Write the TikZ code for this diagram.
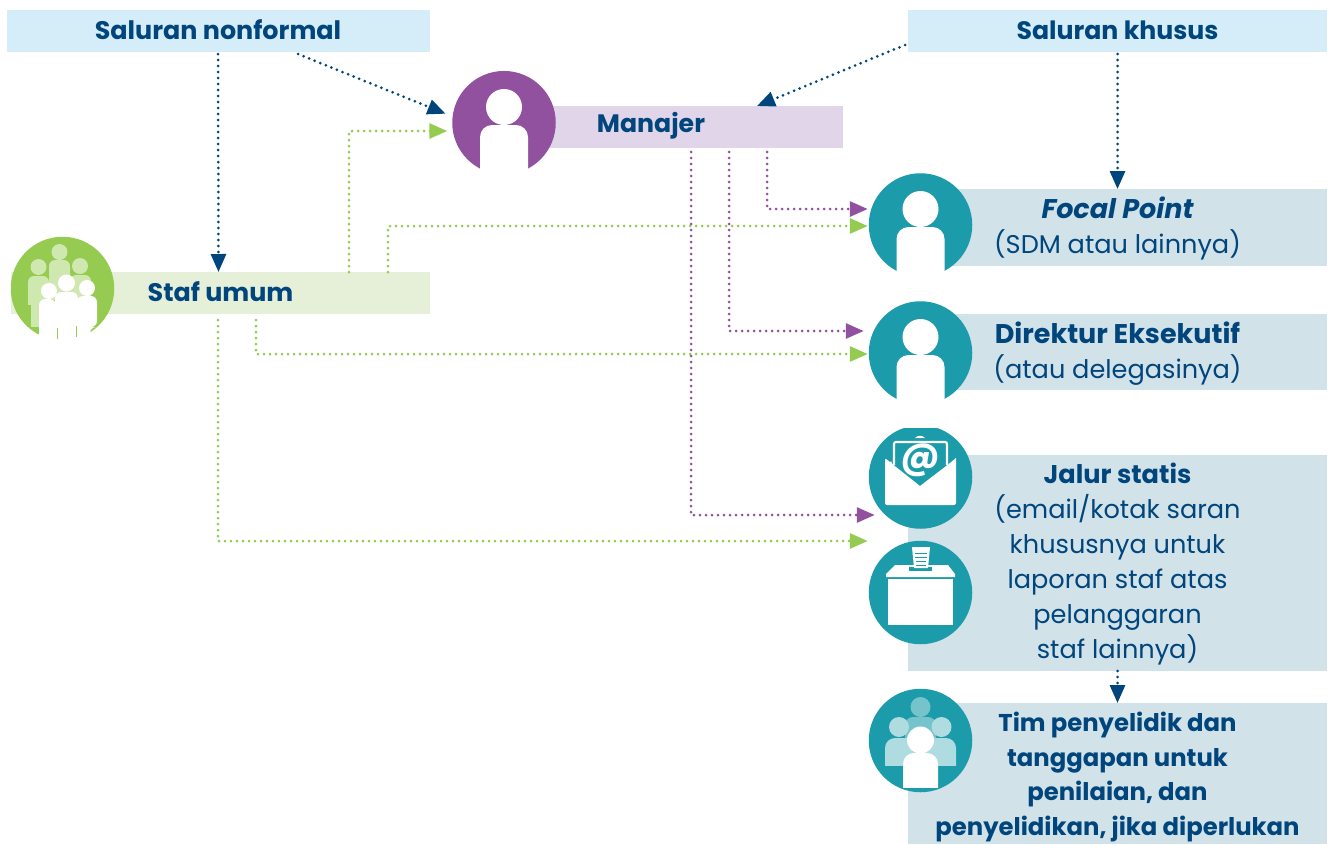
\documentclass[tikz,border=0pt]{standalone}
\usepackage{fontspec}
\setmainfont{Poppins}
\usetikzlibrary{arrows.meta}
\definecolor{navy}{HTML}{00457C}
\definecolor{nfbar}{HTML}{D4EDF9}
\definecolor{mgbar}{HTML}{E1D5E9}
\definecolor{stbar}{HTML}{E6F0D9}
\definecolor{tlbar}{HTML}{D1E2E9}
\definecolor{mgc}{HTML}{92519F}
\definecolor{stc}{HTML}{94CB50}
\definecolor{tlc}{HTML}{1C9BAA}
\newcommand{\bigbold}{\fontsize{27}{35}\selectfont\bfseries}
\tikzset{
 x=1pt,y=-1pt,
 bar/.style={rectangle,inner sep=0pt,outer sep=0pt},
 txt/.style={inner sep=0pt,outer sep=0pt,text=navy,align=center,font=\fontsize{25.6}{35}\selectfont},
 txtsm/.style={txt,font=\fontsize{24.3}{34.6}\selectfont},
 head/.style={txt,font=\fontsize{25.2}{35}\selectfont\bfseries},
 disc/.style={circle,inner sep=0pt,outer sep=0pt,minimum size=103.5pt},
 dotline/.style={line width=3pt,line cap=round,dash pattern=on 0pt off 6pt,
   -{Triangle[length=18pt,width=15pt,line cap=butt,fill=#1]},draw=#1},
}
\newcommand{\personicon}[3]{% x y colour
 \begin{scope}[shift={(#1,#2)}]
  \fill[#3] (0,-16) circle (18);
  \fill[#3,rounded corners=12pt] (-24,70) -- (-24,2) -- (24,2) -- (24,70) -- cycle;
  \fill[white] (-30,50) rectangle (30,75);
 \end{scope}}
\begin{document}
\begin{tikzpicture}
\useasboundingbox (0,0) rectangle (1330,844);
% bars
\node[bar,fill=nfbar,minimum width=423pt,minimum height=42pt] (nf) at (218.5,31) {};
\node[bar,fill=nfbar,minimum width=419pt,minimum height=42pt] (kh) at (1117.5,31) {};
\node[bar,fill=mgbar,minimum width=384pt,minimum height=42pt] (mg) at (651,127) {};
\node[bar,fill=stbar,minimum width=419pt,minimum height=42pt] (st) at (220.5,293) {};
\node[bar,fill=tlbar,minimum width=419pt,minimum height=77pt] (fp) at (1117.5,227.5) {};
\node[bar,fill=tlbar,minimum width=419pt,minimum height=76pt] (de) at (1117.5,352) {};
\node[bar,fill=tlbar,minimum width=419pt,minimum height=216pt] (js) at (1117.5,563) {};
\node[bar,fill=tlbar,minimum width=419pt,minimum height=141pt] (tp) at (1117.5,773.5) {};
% labels
\node[head,font=\fontsize{25.4}{35}\selectfont\bfseries] (tnf) at (218,30) {Saluran nonformal};
\node[head] (tkh) at (1117.5,30) {Saluran khusus};
\node[head] (tmg) at (651,126) {Manajer};
\node[head,font=\fontsize{25.4}{35}\selectfont\bfseries] (tst) at (220.5,292) {Staf umum};
\node[txt] (tfp) at (1117.5,228.5) {{\bigbold\itshape Focal Point}\\(SDM atau lainnya)};
\node[txt] (tde) at (1117.5,354) {{\bigbold Direktur Eksekutif}\\(atau delegasinya)};
\node[txt] (tjs) at (1117.5,564.5) {\textbf{Jalur statis}\\(email/kotak saran\\khususnya untuk\\laporan staf atas\\pelanggaran\\staf lainnya)};
\node[txtsm] (ttp) at (1117.5,777) {\textbf{Tim penyelidik dan}\\\textbf{tanggapan untuk}\\\textbf{penilaian, dan}\\\textbf{penyelidikan, jika diperlukan}};
% discs
\node[disc,fill=mgc] (cm) at (504,122.7) {};
\node[disc,fill=stc] (cs) at (62.5,288.5) {};
\node[disc,fill=tlc] (cf) at (920.5,225) {};
\node[disc,fill=tlc] (cd) at (920.5,353) {};
\node[disc,fill=tlc] (ce) at (920.5,477) {};
\node[disc,fill=tlc] (cb) at (920.5,592.5) {};
\node[disc,fill=tlc] (ct) at (920.5,740.5) {};
% single persons
\personicon{504}{123}{white}
\personicon{920.5}{225}{white}
\personicon{920.5}{353}{white}
% staff group
\begin{scope}
\clip (20,240) rectangle (100,326);
\fill[stc!45!white] (59.5,252) circle (8) (38.5,267) circle (8) (80,266) circle (8);
\fill[stc!45!white,rounded corners=6pt] (49,300) -- (49,260) -- (70,260) -- (70,300) -- cycle;
\fill[stc!45!white,rounded corners=6pt] (28,340) -- (28,276) -- (49,276) -- (49,340) -- cycle;
\fill[stc!45!white,rounded corners=6pt] (70,340) -- (70,275) -- (91,275) -- (91,340) -- cycle;
\fill[stc] (27,305) rectangle (31,327);
\end{scope}
\fill[white] (49,291) circle (8) (66.5,283) circle (8.5) (87,288) circle (8);
\fill[white,rounded corners=6pt] (39,345) -- (39,299) -- (56,299) -- (56,345) -- cycle;
\fill[white,rounded corners=6pt] (55,345) -- (55,292) -- (78,292) -- (78,345) -- cycle;
\fill[white,rounded corners=6pt] (77,345) -- (77,296) -- (97,296) -- (97,327) -- (90,327) -- (90,345) -- cycle;
\draw[stc,line width=.8pt] (57.5,328) -- (57.5,339) (76.5,326) -- (76.5,337);
% envelope
\fill[white,rounded corners=2pt] (885,505) -- (885,458) -- (891,463) -- (891,463) [sharp corners] -- (920,486) -- (950,463) -- (956,458) [rounded corners=2pt] -- (956,505) -- cycle;
\draw[white,line width=2.2pt,line join=round,rounded corners=2pt] (894,465) -- (894,442) -- (947,442) -- (947,465);
\fill[white] (915,438) to[bend left=50] (925,438) -- cycle;
\node[text=white,inner sep=0pt,font=\fontsize{37}{37}\selectfont\bfseries] (at) at (920.5,460) {@};
% ballot box
\fill[white] (895,565) -- (948,565) -- (955,574) -- (955,577) -- (886,577) -- (886,574) -- cycle;
\fill[white] (888,579) rectangle (953,625);
\fill[tlc] (909,567) rectangle (932,571);
\fill[white] (912,547) -- (930,547) -- (928,568) -- (914,568) -- cycle;
\draw[tlc,line width=1pt] (915,553) -- (927,553) (915,557) -- (927,557) (916,561) -- (926,561) (916,565) -- (926,565);
% team
\begin{scope}
\clip (880,690) rectangle (960,765);
\fill[tlc!60!white] (920.5,707) circle (10);
\fill[tlc!60!white,rounded corners=8pt] (905,750) -- (905,717) -- (936,717) -- (936,750) -- cycle;
\fill[tlc!35!white] (899,727) circle (10) (941.5,727) circle (10);
\fill[tlc!35!white,rounded corners=10pt] (885,785) -- (885,738) -- (925,738) -- (925,785) -- cycle;
\fill[tlc!35!white,rounded corners=10pt] (956,785) -- (956,738) -- (916,738) -- (916,785) -- cycle;
\end{scope}
\fill[white] (920.5,740) circle (13.5);
\begin{scope}
\clip (895,745) rectangle (945,787);
\fill[white,rounded corners=11pt] (903,800) -- (903,753) -- (938,753) -- (938,800) -- cycle;
\end{scope}
% connectors
\coordinate (g1) at (349,131);
\coordinate (g2) at (388,226);
\coordinate (g3) at (256,354);
\coordinate (g4) at (218,541);
\coordinate (p1) at (767,209);
\coordinate (p2) at (729,331);
\coordinate (p3) at (691,515);
\draw[dotline=navy] ([xshift=-.5pt,yshift=-2pt]nf.south) -- (nf.south |- st.north);
\draw[dotline=navy] ([xshift=79.5pt,yshift=-2pt]nf.south) -- ([xshift=-7.5pt]cm.170);
\draw[dotline=navy] ([xshift=-3pt,yshift=-14pt]kh.west) -- ([xshift=298pt]mg.north west);
\draw[dotline=navy] ([yshift=-2pt]kh.south) -- (fp.north -| kh.south);
\draw[dotline=navy] (js.south) -- (tp.north);
\draw[dotline=stc] (st.north -| g1) -- (g1) -- ([xshift=-5pt]cm.west |- g1);
\draw[dotline=stc] (st.north -| g2) -- (g2) -- ([xshift=-1pt]cf.west |- g2);
\draw[dotline=stc] ([yshift=-6pt]st.south -| g3) -- (g3) -- ([xshift=-1pt]cd.west |- g3);
\draw[dotline=stc] ([yshift=-6pt]st.south -| g4) -- (g4) -- ([xshift=-1pt]cb.west |- g4);
\draw[dotline=mgc] ([yshift=-4pt]mg.south -| p1) -- (p1) -- ([xshift=-1pt]cf.west |- p1);
\draw[dotline=mgc] ([yshift=-4pt]mg.south -| p2) -- (p2) -- ([xshift=-5pt]cd.west |- p2);
\draw[dotline=mgc] ([yshift=-4pt]mg.south -| p3) -- (p3) -- ([xshift=6pt]ce.west |- p3);
\end{tikzpicture}
\end{document}
